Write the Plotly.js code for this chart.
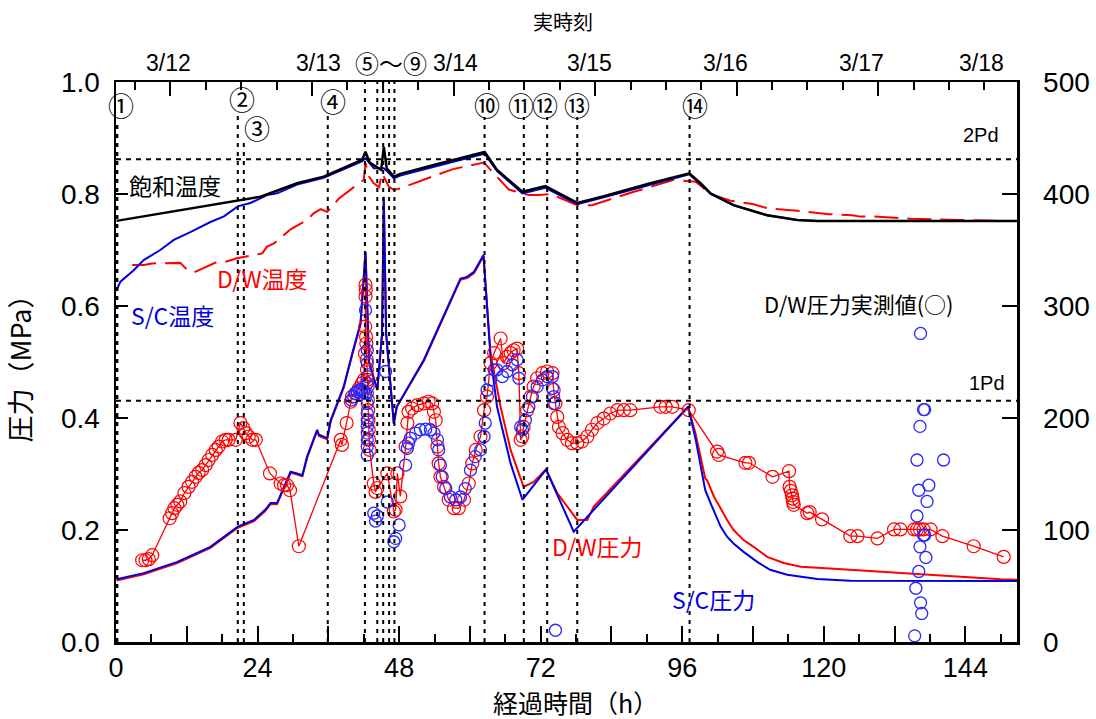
<!DOCTYPE html>
<html><head><meta charset="utf-8">
<script src="https://cdn.plot.ly/plotly-3.0.1.min.js"></script>
<style>html,body{margin:0;padding:0;background:#fff}#chart{width:1096px;height:719px}</style>
</head><body><div id="chart"></div>
<script>
// ---------- data (hours since 3/11 14:46) ----------
const satHours = [0.1, 10.4, 20.65, 24.5, 30.7, 35.2, 41.7, 42.3, 43.0, 44.96, 45.4, 45.9, 47.1, 48.2, 55.0, 62.1, 62.5, 64.6, 68.9, 72.8, 78.2, 82.7, 90.6, 97.2, 99.1, 100.8, 104.7, 110.4, 115.5, 118.9, 152.8];
const satTempK = [376, 385, 394, 397.6, 409.6, 415.5, 430.4, 437.8, 428, 421.5, 442, 423, 415.5, 418, 427.5, 437, 437.5, 421.5, 402, 407, 392, 398, 409.6, 418.5, 409.6, 400.6, 390, 381, 376.8, 376, 376];

const scTempHours = [0.1, 0.75, 3.0, 4.7, 7.5, 9.8, 12.6, 16.0, 18.3, 20.65, 22.8, 25.6, 27.3, 30.7, 35.2, 41.7, 42.3, 43.7, 45.4, 46.25, 47.1, 48.2, 62.1, 62.5, 64.6, 68.9, 72.8, 78.2, 82.7, 90.6, 97.2, 99.1, 100.8, 104.7, 110.4, 115.5, 118.9, 152.8];
const scTempK = [314.3, 321.7, 332, 341, 350, 359, 366, 375, 380, 389, 392, 399, 400.6, 408.5, 414.5, 429, 432, 423, 423, 419, 414, 416.5, 435.5, 436, 420.5, 400.5, 405.5, 391, 397, 408.5, 417.5, 409, 400, 390, 381, 376.8, 376, 376];

const dwTempHours = [2.75, 4.7, 6.1, 10.9, 12.1, 13.2, 16.9, 18.6, 20.5, 22.8, 24.8, 25.6, 26.8, 29.6, 30.4, 32.4, 33.5, 34.7, 35.8, 37.8, 41.2, 42.0, 42.3, 42.9, 43.7, 44.6, 45.1, 46.25, 47.1, 48.2, 53.3, 57.0, 58.7, 60.4, 62.4, 63.5, 66.6, 70.0, 71.7, 73.7, 75.9, 78.2, 80.7, 84.1, 86.1, 87.8, 94.6, 98.3, 99.9, 100.8, 104.2, 107.9, 110.7, 112.7, 115.5, 120.9, 124.8, 126.2, 128.5, 134.7, 139.0, 142.6, 149.1];
const dwTempK = [336.6, 336.6, 338, 338.5, 332, 330, 338.8, 339.6, 342.6, 344.7, 347, 353, 356, 368.5, 370.8, 376.8, 382.8, 386.4, 384, 396, 409.6, 412.6, 427.5, 415.5, 409.6, 406, 418.5, 406.6, 403.6, 405, 415, 422, 424, 426, 428, 421.5, 404, 399, 399, 400, 395, 390, 390, 396, 399, 402, 412.6, 411, 404, 400, 394, 391, 387, 386.4, 385, 382, 381, 379.8, 380, 378, 377.7, 376.8, 376.2];

const scCalcHours = [0.1, 4.7, 10.4, 16.0, 20.65, 23.4, 25.3, 26.2, 27.3, 29.6, 30.7, 31.6, 32.4, 34.1, 34.4, 35.8, 36.4, 38.6, 40.05, 41.45, 42.3, 42.9, 44.3, 45.1, 45.4, 45.8, 47.1, 47.6, 52.2, 58.4, 59.5, 60.7, 62.3, 63.5, 64.6, 66.9, 68.9, 72.9, 77.6, 97.0, 98.3, 99.1, 99.9, 100.8, 101.7, 102.5, 103.6, 104.7, 106.4, 108.7, 110.9, 113.8, 118.9, 124.5, 152.8];
const scCalcMPa = [0.112, 0.123, 0.143, 0.170, 0.206, 0.218, 0.236, 0.248, 0.248, 0.304, 0.301, 0.298, 0.331, 0.379, 0.370, 0.364, 0.396, 0.456, 0.515, 0.569, 0.697, 0.50, 0.45, 0.55, 0.795, 0.55, 0.39, 0.42, 0.504, 0.649, 0.652, 0.661, 0.691, 0.509, 0.42, 0.319, 0.254, 0.308, 0.197, 0.42, 0.36, 0.313, 0.271, 0.248, 0.224, 0.206, 0.188, 0.176, 0.161, 0.143, 0.129, 0.120, 0.1125, 0.1095, 0.109];

const dwCalcHours = [0.1, 4.7, 10.4, 16.0, 20.65, 23.4, 25.3, 26.2, 27.3, 29.6, 30.7, 31.6, 32.4, 34.1, 34.4, 35.8, 36.4, 38.6, 40.05, 41.45, 42.3, 42.9, 44.3, 45.1, 45.4, 45.8, 47.1, 47.6, 52.2, 58.4, 59.5, 60.7, 62.3, 63.5, 65.2, 66.9, 69.1, 70.8, 72.9, 74.8, 78.2, 79.9, 81.0, 97.0, 98.3, 99.9, 100.2, 101.4, 102.5, 103.6, 104.7, 106.4, 108.1, 110.4, 113.2, 116.1, 121.7, 127.4, 133.0, 138.7, 144.3, 150.0, 152.8];
const dwCalcMPa = [0.110, 0.121, 0.141, 0.168, 0.204, 0.216, 0.234, 0.246, 0.246, 0.302, 0.299, 0.296, 0.329, 0.377, 0.368, 0.362, 0.394, 0.454, 0.513, 0.567, 0.695, 0.50, 0.45, 0.55, 0.79, 0.55, 0.39, 0.42, 0.502, 0.647, 0.650, 0.659, 0.689, 0.515, 0.42, 0.343, 0.277, 0.286, 0.308, 0.266, 0.218, 0.218, 0.242, 0.42, 0.37, 0.292, 0.289, 0.259, 0.239, 0.218, 0.200, 0.182, 0.170, 0.152, 0.141, 0.1345, 0.131, 0.127, 0.124, 0.120, 0.1155, 0.112, 0.111];

const dwMeasHours = [4.44, 5.0, 5.56, 6.14, 9.1, 9.5, 9.9, 10.4, 10.9, 11.6, 12.3, 12.9, 13.5, 14.0, 14.6, 15.2, 15.7, 16.3, 16.9, 17.4, 18.0, 18.6, 19.1, 20.3, 21.1, 21.6, 22.0, 22.5, 23.1, 23.7, 26.1, 27.9, 28.5, 29.0, 29.5, 31.0, 38.1, 38.3, 39.1, 39.8, 40.0, 40.6, 41.2, 41.7, 42.0, 42.2, 42.25, 42.3, 42.3, 42.35, 42.4, 42.45, 42.5, 42.55, 42.6, 42.65, 42.7, 42.75, 42.8, 42.85, 42.9, 43.0, 43.7, 44.0, 44.3, 46.0, 47.1, 47.4, 47.7, 48.2, 49.1, 49.4, 49.6, 50.2, 51.1, 52.2, 53.0, 53.6, 53.9, 54.2, 54.5, 54.7, 55.0, 55.6, 56.4, 57.3, 58.1, 59.0, 59.8, 60.4, 61.0, 61.8, 62.4, 62.9, 63.5, 64.1, 65.2, 65.7, 66.3, 66.9, 67.4, 68.0, 68.3, 68.6, 68.9, 69.1, 69.7, 70.3, 70.8, 71.4, 72.3, 73.1, 74.0, 74.2, 74.5, 74.8, 75.1, 75.7, 76.5, 77.3, 78.2, 79.0, 79.9, 80.7, 81.6, 82.7, 83.8, 85.0, 86.1, 87.2, 92.3, 93.2, 94.3, 97.1, 101.9, 102.2, 106.7, 107.3, 111.3, 114.1, 114.2, 114.4, 114.6, 114.7, 114.8, 114.9, 117.2, 117.6, 119.7, 124.5, 125.7, 129.1, 131.9, 133.0, 135.3, 135.8, 136.3, 136.9, 138.1, 140.1, 145.4, 150.5];
const dwMeasMPa = [0.146, 0.146, 0.148, 0.155, 0.221, 0.230, 0.239, 0.245, 0.251, 0.266, 0.277, 0.286, 0.295, 0.302, 0.307, 0.316, 0.325, 0.334, 0.343, 0.349, 0.358, 0.361, 0.361, 0.361, 0.391, 0.382, 0.373, 0.367, 0.361, 0.361, 0.301, 0.283, 0.280, 0.280, 0.271, 0.171, 0.361, 0.352, 0.391, 0.429, 0.438, 0.444, 0.453, 0.462, 0.468, 0.515, 0.563, 0.617, 0.638, 0.629, 0.545, 0.533, 0.504, 0.486, 0.468, 0.456, 0.432, 0.414, 0.396, 0.379, 0.361, 0.343, 0.283, 0.268, 0.275, 0.301, 0.233, 0.236, 0.301, 0.260, 0.349, 0.391, 0.411, 0.417, 0.423, 0.426, 0.429, 0.426, 0.411, 0.396, 0.349, 0.319, 0.295, 0.277, 0.254, 0.239, 0.239, 0.254, 0.283, 0.319, 0.343, 0.367, 0.414, 0.438, 0.498, 0.516, 0.542, 0.498, 0.509, 0.516, 0.521, 0.524, 0.480, 0.361, 0.367, 0.384, 0.414, 0.438, 0.456, 0.471, 0.480, 0.483, 0.480, 0.450, 0.426, 0.402, 0.384, 0.373, 0.361, 0.355, 0.355, 0.358, 0.367, 0.379, 0.391, 0.399, 0.408, 0.414, 0.414, 0.414, 0.420, 0.420, 0.420, 0.414, 0.340, 0.334, 0.320, 0.320, 0.295, 0.305, 0.277, 0.270, 0.262, 0.256, 0.250, 0.245, 0.230, 0.232, 0.219, 0.189, 0.189, 0.185, 0.201, 0.201, 0.201, 0.201, 0.201, 0.201, 0.201, 0.189, 0.171, 0.152];

const scMeasHours = [39.9, 40.3, 40.6, 40.9, 41.2, 41.5, 41.7, 42.0, 42.3, 42.3, 42.6, 42.6, 42.6, 42.6, 42.6, 42.6, 42.6, 42.6, 42.6, 42.6, 42.6, 42.6, 42.6, 43.7, 44.0, 44.3, 45.7, 46.0, 47.1, 47.4, 48.0, 49.1, 49.4, 49.6, 49.9, 50.8, 51.6, 52.5, 53.3, 53.9, 54.5, 54.7, 55.0, 55.3, 55.9, 56.7, 57.6, 58.4, 59.2, 60.1, 60.9, 61.8, 62.4, 62.6, 62.9, 63.5, 64.1, 64.6, 65.5, 66.3, 67.2, 68.0, 68.3, 68.6, 68.9, 69.4, 70.0, 70.6, 71.4, 72.3, 73.1, 74.0, 74.0, 74.2, 74.2, 74.5, 135.4, 135.6, 135.8, 135.8, 136.1, 136.1, 136.3, 136.3, 136.4, 136.4, 136.6, 136.9, 137.1, 136.9, 137.1, 137.3, 137.5, 137.8, 140.3];
const scMeasMPa = [0.432, 0.438, 0.444, 0.447, 0.450, 0.451, 0.450, 0.447, 0.444, 0.593, 0.521, 0.498, 0.474, 0.462, 0.444, 0.426, 0.408, 0.396, 0.385, 0.373, 0.361, 0.349, 0.334, 0.230, 0.216, 0.225, 0.483, 0.250, 0.179, 0.185, 0.209, 0.316, 0.346, 0.355, 0.364, 0.373, 0.379, 0.380, 0.379, 0.373, 0.361, 0.343, 0.316, 0.295, 0.274, 0.259, 0.254, 0.259, 0.274, 0.307, 0.331, 0.343, 0.367, 0.391, 0.450, 0.468, 0.486, 0.486, 0.474, 0.483, 0.495, 0.504, 0.471, 0.384, 0.379, 0.396, 0.420, 0.438, 0.456, 0.468, 0.474, 0.474, 0.453, 0.438, 0.426, 0.021, 0.011, 0.096, 0.225, 0.325, 0.126, 0.271, 0.170, 0.385, 0.551, 0.070, 0.051, 0.191, 0.191, 0.415, 0.415, 0.151, 0.251, 0.280, 0.325];

// events (hours) and their labels
const eventHours = [0.15, 20.65, 21.67, 35.9, 42.2, 44.3, 45.3, 46.3, 47.2, 62.48, 69.14, 73.1, 78.2, 97.24];
const eventTopMPa = [0.927, 0.946, 0.896, 0.946, 1, 1, 1, 1, 1, 0.9375, 0.9375, 0.9375, 0.9375, 0.9375];
const pdLevels = [0.431, 0.862];
const pdLabels = ['1Pd', '2Pd'];

// axis ticks
const bottomMajor = [0, 12, 24, 36, 48, 60, 72, 84, 96, 108, 120, 132, 144];
const bottomText = ['0', '', '24', '', '48', '', '72', '', '96', '', '120', '', '144'];
const bottomMinor = [6, 18, 30, 42, 54, 66, 78, 90, 102, 114, 126, 138, 150];
const dateLabels = ['3/12', '3/13', '3/14', '3/15', '3/16', '3/17', '3/18'];
const topMajor = [9.23, 33.23, 57.23, 81.23, 105.23, 129.23];
const topMinor = [3.23, 15.23, 21.23, 27.23, 39.23, 45.23, 51.23, 63.23, 69.23, 75.23, 87.23, 93.23, 99.23, 111.23, 117.23, 123.23, 135.23, 141.23, 147.23];
const leftTicks = [0, 0.2, 0.4, 0.6, 0.8, 1.0];
const rightTicks = [0, 100, 200, 300, 400, 500];

// ---------- styling ----------
const FONT = 'Liberation Sans, Arial, Noto Sans CJK JP, sans-serif';
const JP = 'Noto Sans CJK JP, sans-serif';
const RED = '#ff0000', BLUE = '#0000e0', BLUEC = '#2828ff';
const X_RANGE = [0, 152.75];

const traces = [
  {x: dwTempHours, y: dwTempK, xaxis: 'x2', yaxis: 'y2', mode: 'lines',
   line: {color: RED, width: 2, dash: '24px,9px'}, hoverinfo: 'skip'},
  {x: scTempHours, y: scTempK, xaxis: 'x2', yaxis: 'y2', mode: 'lines',
   line: {color: BLUE, width: 2}, hoverinfo: 'skip'},
  {x: satHours, y: satTempK, xaxis: 'x2', yaxis: 'y2', mode: 'lines',
   line: {color: '#000', width: 2.5}, hoverinfo: 'skip'},
  {x: dwCalcHours, y: dwCalcMPa, mode: 'lines', line: {color: RED, width: 2}},
  {x: scCalcHours, y: scCalcMPa, mode: 'lines', line: {color: BLUE, width: 2}},
  {x: dwMeasHours, y: dwMeasMPa, mode: 'lines+markers', line: {color: RED, width: 1.3},
   marker: {symbol: 'circle-open', size: 13, color: RED, line: {width: 1.2, color: RED}}},
  {x: scMeasHours, y: scMeasMPa, mode: 'markers',
   marker: {symbol: 'circle-open', size: 12, color: BLUEC, line: {width: 1.3, color: BLUEC}}}
];

const shapes = [];
eventHours.forEach((h, i) => shapes.push({type: 'line', xref: 'x', yref: 'y', x0: h, x1: h, y0: 0, y1: eventTopMPa[i],
  line: {color: '#000', width: i === 0 ? 3 : 2, dash: '4px,5px'}}));
pdLevels.forEach(p => shapes.push({type: 'line', xref: 'paper', yref: 'y', x0: 0, x1: 1, y0: p, y1: p,
  line: {color: '#000', width: 2, dash: '5px,5px'}}));

function px2paperX(px) { return (px - 116) / 901; }
function px2paperY(py) { return (642 - py) / 560; }
const ann = [];
function txt(text, px, py, size, color, family) {
  ann.push({text: text, xref: 'paper', yref: 'paper', x: px2paperX(px), y: px2paperY(py),
    xanchor: 'center', yanchor: 'middle', showarrow: false,
    font: {size: size, color: color || '#000', family: family || JP}});
}
txt('飽和温度', 175, 185, 23);
txt('D/W温度', 262, 278, 23, RED);
txt('S/C温度', 172, 315, 23, BLUE);
txt('D/W圧力', 597, 546, 23, RED);
txt('S/C圧力', 713, 599, 23, BLUE);
txt('D/W圧力実測値(○)', 859, 303, 22);
txt(pdLabels[1], 981, 135, 20, '#000', FONT);
txt(pdLabels[0], 987, 383, 20, '#000', FONT);
txt('実時刻', 563, 22, 20);
const datePx = [168, 318, 455, 589, 725, 861, 981];
dateLabels.forEach((d, i) => txt(d, datePx[i], 63, 23, '#000', FONT));
txt('⑤〜⑨', 391, 63, 24);
const circ = [['①', 121, 105], ['②', 242, 98], ['③', 257, 127], ['④', 333, 100], ['⑩', 487, 105], ['⑪', 521, 105], ['⑫', 545, 105], ['⑬', 577, 105], ['⑭', 695, 105]];
circ.forEach(c => txt(c[0], c[1], c[2], 26));
// bottom axis title as an annotation (keeps it clear of the tick labels)
txt('経過時間（h）', 575, 702, 25);

const axisCommon = {showgrid: false, zeroline: false, showline: true, linecolor: '#000', linewidth: 2.5,
  ticks: 'inside', tickcolor: '#000', tickwidth: 2, tickfont: {size: 28, family: FONT, color: '#000'}};

const layout = {
  width: 1096, height: 719,
  margin: {l: 116, r: 79, t: 82, b: 77},
  paper_bgcolor: '#fff', plot_bgcolor: '#fff',
  showlegend: false,
  font: {family: FONT, color: '#000'},
  xaxis: Object.assign({}, axisCommon, {range: X_RANGE, tickmode: 'array', tickvals: bottomMajor, ticktext: bottomText,
    ticklen: 16, ticklabelstandoff: 0, tickfont: {size: 27, family: FONT, color: '#000'},
    minor: {tickmode: 'array', tickvals: bottomMinor, ticks: 'inside', ticklen: 8, tickwidth: 2, tickcolor: '#000'}}),
  yaxis: Object.assign({}, axisCommon, {range: [0, 1], tickmode: 'array', tickvals: leftTicks, ticktext: leftTicks.map(v => v.toFixed(1)),
    ticklen: 12, ticklabelstandoff: 8,
    title: {text: '圧力（MPa）', font: {size: 27, family: JP}, standoff: 22}}),
  xaxis2: Object.assign({}, axisCommon, {range: X_RANGE, overlaying: 'x', side: 'top', anchor: 'y2',
    tickmode: 'array', tickvals: topMajor, ticktext: topMajor.map(() => ''), ticklen: 14,
    minor: {tickmode: 'array', tickvals: topMinor, ticks: 'inside', ticklen: 8, tickwidth: 2, tickcolor: '#000'}}),
  yaxis2: Object.assign({}, axisCommon, {range: [0, 500], overlaying: 'y', side: 'right', anchor: 'x2',
    tickmode: 'array', tickvals: rightTicks, ticklen: 15, ticklabelstandoff: 18}),
  shapes: shapes,
  annotations: ann
};

Plotly.newPlot('chart', traces, layout, {displayModeBar: false, staticPlot: true});
</script>
</body></html>
